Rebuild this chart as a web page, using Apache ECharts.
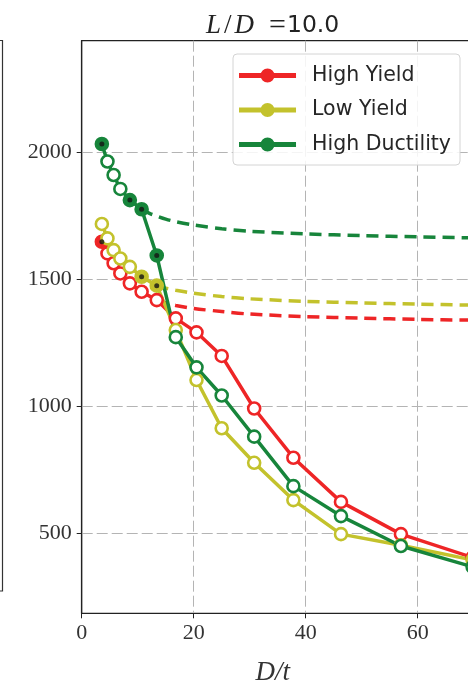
<!DOCTYPE html>
<html>
<head>
<meta charset="utf-8">
<script src="https://cdn.jsdelivr.net/npm/echarts@6/dist/echarts.min.js"></script>
<style>
  html, body { margin: 0; padding: 0; background: #fff; }
  #chart { width: 468px; height: 691px; }
</style>
</head>
<body>
<div id="chart"></div>
<script>
// D/t values shared by all three steel grades
const dt = [3.6, 4.6, 5.7, 6.9, 8.6, 10.7, 13.4, 16.8, 20.5, 25.0, 30.8, 37.8, 46.3, 57.0, 69.8];

// Capacity for each grade
const highYield     = [1649, 1603, 1564, 1524, 1485, 1452, 1419, 1347, 1292, 1199, 992, 798, 624, 497, 405];
const lowYield      = [1719, 1662, 1616, 1583, 1550, 1511, 1476, 1301, 1104, 914, 778, 631, 497, 453, 395];
const highDuctility = [2034, 1965, 1912, 1857, 1813, 1777, 1595, 1273, 1154, 1043, 881, 686, 568, 450, 368];

// Points drawn with a dark centre (indices into dt)
const markedHighYield = [0];
const markedLowYield = [5, 6];
const markedHighDuctility = [0, 4, 5, 6];

// Dashed reference curves
const refX             = [10.7, 12.2, 13.4, 15.0, 16.8, 20.0, 25.0, 30.0, 40.0, 50.0, 60.0, 70.0];
const refHighYield     = [null, null, 1419, 1408, 1398, 1386, 1374, 1364, 1354, 1348, 1343, 1340];
const refLowYield      = [null, null, 1476, 1466, 1458, 1446, 1433, 1424, 1414, 1408, 1403, 1399];
const refHighDuctility = [1777, 1760, 1750, 1738, 1728, 1715, 1700, 1690, 1680, 1673, 1668, 1664];

const xTicks = [0, 20, 40, 60];
const yTicks = [500, 1000, 1500, 2000];

const COLORS = { hy: '#ee2526', ly: '#c3c22c', hd: '#17853b' };
const SERIF = "'Liberation Serif', 'DejaVu Serif', serif";
const SANS = "'DejaVu Sans', 'Liberation Sans', sans-serif";

const legendIcon = 'path://M0,4.5 H57 V9.5 H0 Z M21.5,7 A7,7 0 1 1 35.5,7 A7,7 0 1 1 21.5,7 Z';

function mainSeries(name, values, marked, color) {
  return {
    name: name,
    type: 'line',
    data: values.map((v, i) => {
      const item = { value: [dt[i], v] };
      if (marked.includes(i)) item.itemStyle = { color: color, borderColor: color };
      return item;
    }),
    symbol: 'circle',
    symbolSize: 12,
    showAllSymbol: true,
    lineStyle: { color: color, width: 3.5 },
    itemStyle: { color: '#fff', borderColor: color, borderWidth: 2.6 },
    emphasis: { disabled: true },
    animation: false
  };
}

function dotSeries(values, marked) {
  return {
    type: 'scatter',
    data: marked.map(i => [dt[i], values[i]]),
    symbol: 'circle',
    symbolSize: 5,
    itemStyle: { color: '#141414' },
    z: 5,
    silent: true,
    animation: false
  };
}

function refSeries(values, color) {
  return {
    type: 'line',
    data: refX.map((x, i) => values[i] == null ? null : [x, values[i]]).filter(Boolean),
    smooth: 0.3,
    symbol: 'none',
    lineStyle: { color: color, width: 3.5, type: [12, 7] },
    silent: true,
    animation: false
  };
}

const chart = echarts.init(document.getElementById('chart'), null, { renderer: 'canvas' });

const titleRich = {
  l: { fontFamily: SERIF, fontStyle: 'italic', fontSize: 27, color: '#222', padding: [0, 2, 0, 0] },
  s: { fontFamily: SERIF, fontSize: 27, color: '#222', padding: [0, 3, 0, 1] },
  d: { fontFamily: SERIF, fontStyle: 'italic', fontSize: 27, color: '#222', padding: [0, 15, 0, 0] },
  e: { fontFamily: SERIF, fontSize: 30, color: '#222', padding: [0, 1, 0, 0] },
  n: { fontFamily: SANS, fontSize: 23.5, color: '#222' }
};
Object.values(titleRich).forEach(r => { r.fontWeight = 'normal'; });

chart.setOption({
  backgroundColor: '#fff',
  animation: false,
  title: {
    text: '{l|L}{s|/}{d|D}{e|=}{n|10.0}',
    left: 201,
    top: 6,
    textStyle: { fontWeight: 'normal', rich: titleRich }
  },
  legend: {
    right: 8,
    top: 54,
    orient: 'vertical',
    itemWidth: 57,
    itemHeight: 14,
    itemGap: 13.5,
    padding: [11, 9, 10, 6],
    backgroundColor: 'rgba(255,255,255,0.85)',
    borderColor: '#d4d4d4',
    borderWidth: 1,
    borderRadius: 4,
    selectedMode: false,
    textStyle: { fontFamily: SANS, fontSize: 20.5, color: '#262626', padding: [0, 0, 0, 11] },
    data: [
      { name: 'High Yield', icon: legendIcon, itemStyle: { color: COLORS.hy, borderWidth: 0 } },
      { name: 'Low Yield', icon: legendIcon, itemStyle: { color: COLORS.ly, borderWidth: 0 } },
      { name: 'High Ductility', icon: legendIcon, itemStyle: { color: COLORS.hd, borderWidth: 0 } }
    ]
  },
  grid: {
    left: 81.7,
    top: 40.7,
    height: 572.6,
    width: 392,
    containLabel: false,
    outerBoundsMode: 'none',
    show: true,
    borderColor: '#222',
    borderWidth: 1.2,
    backgroundColor: 'transparent'
  },
  xAxis: {
    type: 'value',
    min: 0,
    max: 70,
    interval: 20,
    name: 'D/t',
    nameLocation: 'middle',
    nameGap: 46,
    nameTextStyle: { fontFamily: SERIF, fontStyle: 'italic', fontSize: 27, color: '#333', padding: [0, 10, 0, 0] },
    axisLine: { show: true, lineStyle: { color: '#222', width: 1.2 } },
    axisTick: { show: true, length: 5, lineStyle: { color: '#222' } },
    axisLabel: {
      margin: 9,
      fontFamily: SERIF,
      fontSize: 22,
      color: '#333',
      showMaxLabel: false,
      formatter: v => (xTicks.includes(v) ? String(v) : '')
    },
    splitLine: { show: true, showMinLine: false, showMaxLine: false,
                 lineStyle: { color: '#b4b4b4', width: 1, type: [11, 4] } }
  },
  yAxis: {
    type: 'value',
    min: 185,
    max: 2441,
    axisLine: { show: true, lineStyle: { color: '#222', width: 1.2 } },
    axisTick: { show: true, length: 5, lineStyle: { color: '#222' } },
    axisLabel: {
      margin: 10,
      fontFamily: SERIF,
      fontSize: 22,
      color: '#333',
      showMinLabel: false,
      showMaxLabel: false,
      formatter: v => (yTicks.includes(v) ? String(v) : '')
    },
    splitLine: { show: true, showMinLine: false, showMaxLine: false,
                 lineStyle: { color: '#b4b4b4', width: 1, type: [11, 4] } }
  },
  graphic: [
    // right edge of the neighbouring panel
    { type: 'polyline', shape: { points: [[0, 40.5], [2.5, 40.5], [2.5, 591], [0, 591]] },
      style: { stroke: '#333', lineWidth: 1.2, fill: null }, silent: true }
  ],
  series: [
    refSeries(refHighYield, COLORS.hy),
    mainSeries('High Yield', highYield, markedHighYield, COLORS.hy),
    dotSeries(highYield, markedHighYield),
    refSeries(refLowYield, COLORS.ly),
    mainSeries('Low Yield', lowYield, markedLowYield, COLORS.ly),
    dotSeries(lowYield, markedLowYield),
    refSeries(refHighDuctility, COLORS.hd),
    mainSeries('High Ductility', highDuctility, markedHighDuctility, COLORS.hd),
    dotSeries(highDuctility, markedHighDuctility)
  ]
});
</script>
</body>
</html>
